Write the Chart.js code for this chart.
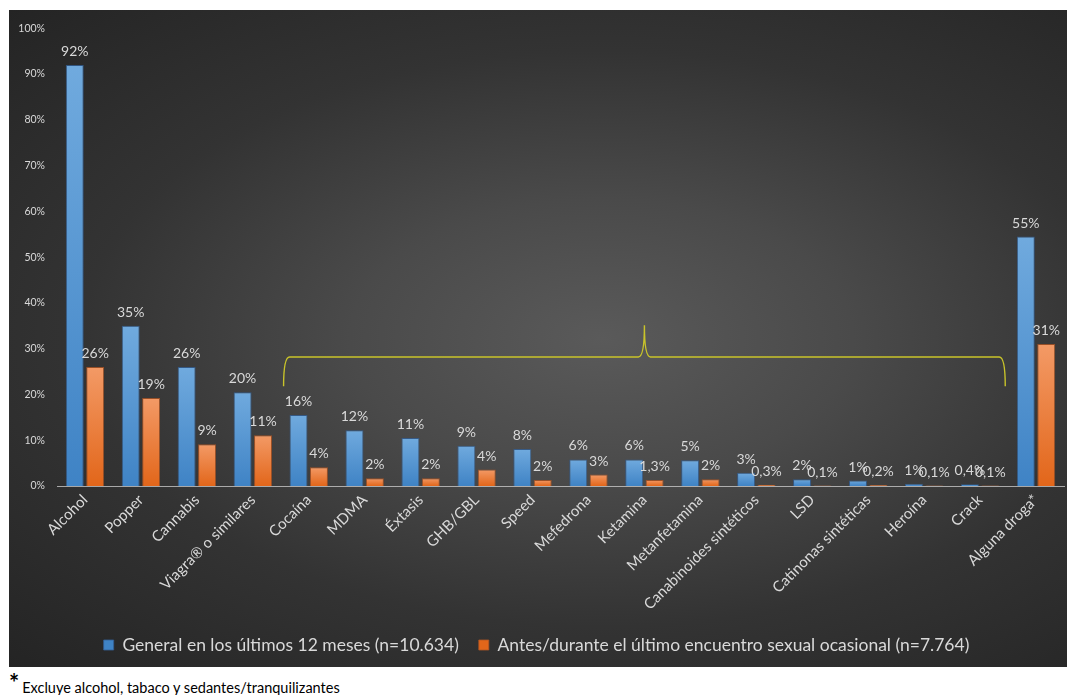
<!DOCTYPE html>
<html lang="es">
<head>
<meta charset="utf-8">
<script src="https://cdn.jsdelivr.net/npm/chart.js@4.4.1/dist/chart.umd.min.js"></script>
<style>
  body { margin: 0; background: #fff; width: 1067px; height: 695px; position: relative; overflow: hidden; }
  #panel {
    position: absolute; left: 9px; top: 10px; width: 1058px; height: 657px;
    background: radial-gradient(ellipse farthest-corner at 56% 50%, #5a5a5a 0%, #4a4a4a 30%, #333 62%, #242424 100%);
  }
  #note { position: absolute; left: 9px; top: 671px; font-family: Lato, sans-serif; color: #000; white-space: nowrap; }
  #note b { font-size: 24px; vertical-align: top; line-height: 24px; }
  #note span { font-size: 14.5px; margin-left: 3px; position: relative; top: 6px; }
</style>
</head>
<body>
<div id="panel"><canvas id="drugChart"></canvas></div>
<div id="note"><b>*</b><span>Excluye alcohol, tabaco y sedantes/tranquilizantes</span></div>

<script>
// categories
const drugs = ["Alcohol", "Popper", "Cannabis", "Viagra® o similares", "Cocaína", "MDMA", "Éxtasis",
    "GHB/GBL", "Speed", "Mefedrona", "Ketamina", "Metanfetamina", "Canabinoides sintéticos", "LSD",
    "Catinonas sintéticas", "Heroína", "Crack", "Alguna droga*"];

// series values (%)
const general12m = [92, 35, 26, 20.5, 15.5, 12.2, 10.5, 8.8, 8.1, 5.8, 5.8, 5.6, 2.9, 1.5, 1.2, 0.5, 0.4, 54.5];
const lastEncounter = [26, 19.2, 9.1, 11.1, 4.1, 1.7, 1.7, 3.6, 1.3, 2.5, 1.3, 1.5, 0.3, 0.1, 0.2, 0.1, 0.1, 31];

// printed labels above the bars
const general12mLabels = ["92%", "35%", "26%", "20%", "16%", "12%", "11%", "9%", "8%", "6%", "6%", "5%",
    "3%", "2%", "1%", "1%", "0,4%", "55%"];
const lastEncounterLabels = ["26%", "19%", "9%", "11%", "4%", "2%", "2%", "4%", "2%", "3%", "1,3%", "2%",
    "0,3%", "0,1%", "0,2%", "0,1%", "0,1%", "31%"];

const seriesNames = ["General en los últimos 12 meses (n=10.634)",
    "Antes/durante el último encuentro sexual ocasional (n=7.764)"];

// y ticks
const yTicks = [0, 10, 20, 30, 40, 50, 60, 70, 80, 90, 100];

// brace over Cocaína..Crack (category index / value units)
const braceFrom = 3.55, braceTo = 16.45, bracePeak = 10.0;
const braceLevel = 28.2, braceEnd = 21.8, braceTop = 35.1;

Chart.defaults.font.family = "Lato, 'Open Sans', sans-serif";
Chart.defaults.color = "#d9d9d9";

function barFill(topColor, bottomColor) {
    return function (c) {
        const chart = c.chart;
        if (!chart.chartArea || c.type !== 'data') return bottomColor;
        const y = chart.scales.y;
        const top = y.getPixelForValue(c.raw);
        const bottom = y.getPixelForValue(0);
        if (!(bottom > top)) return bottomColor;
        const g = chart.ctx.createLinearGradient(0, top, 0, bottom);
        g.addColorStop(0, topColor);
        g.addColorStop(1, bottomColor);
        return g;
    };
}

const valueLabels = {
    id: 'valueLabels',
    afterDatasetsDraw(chart) {
        const ctx = chart.ctx;
        const texts = [general12mLabels, lastEncounterLabels];
        ctx.save();
        ctx.font = "14px Lato, 'Open Sans', sans-serif";
        ctx.fillStyle = "#d9d9d9";
        ctx.textAlign = "center";
        ctx.textBaseline = "alphabetic";
        chart.data.datasets.forEach((ds, i) => {
            chart.getDatasetMeta(i).data.forEach((bar, j) => {
                ctx.fillText(texts[i][j], bar.x, bar.y - 9);
            });
        });
        ctx.restore();
    }
};

const brace = {
    id: 'brace',
    afterDatasetsDraw(chart) {
        const x = chart.scales.x, y = chart.scales.y, ctx = chart.ctx;
        const x0 = x.getPixelForValue(braceFrom), x1 = x.getPixelForValue(braceTo);
        const xp = x.getPixelForValue(bracePeak);
        const yl = y.getPixelForValue(braceLevel), ye = y.getPixelForValue(braceEnd);
        const yt = y.getPixelForValue(braceTop);
        ctx.save();
        ctx.strokeStyle = "#c9c42a";
        ctx.lineWidth = 1.4;
        ctx.beginPath();
        ctx.moveTo(x0, ye);
        ctx.quadraticCurveTo(x0, yl, x0 + 6, yl);
        ctx.lineTo(xp - 6, yl);
        ctx.quadraticCurveTo(xp, yl, xp, yt);
        ctx.quadraticCurveTo(xp, yl, xp + 6, yl);
        ctx.lineTo(x1 - 6, yl);
        ctx.quadraticCurveTo(x1, yl, x1, ye);
        ctx.stroke();
        ctx.restore();
    }
};

new Chart(document.getElementById('drugChart'), {
    type: 'bar',
    data: {
        labels: drugs,
        datasets: [
            {
                label: seriesNames[0],
                data: general12m,
                backgroundColor: barFill("#70aade", "#3f83c5"),
                borderColor: "rgba(50, 95, 150, 0.8)",
                borderWidth: 1,
                categoryPercentage: 0.73,
                barPercentage: 0.88
            },
            {
                label: seriesNames[1],
                data: lastEncounter,
                backgroundColor: barFill("#f39a66", "#e2661a"),
                borderColor: "rgba(175, 85, 35, 0.8)",
                borderWidth: 1,
                categoryPercentage: 0.73,
                barPercentage: 0.88
            }
        ]
    },
    options: {
        responsive: true,
        maintainAspectRatio: false,
        animation: false,
        layout: { padding: { top: 12, right: 3, bottom: 3.25, left: 0 } },
        plugins: {
            tooltip: { enabled: false },
            legend: {
                position: 'bottom',
                labels: {
                    color: "#d9d9d9",
                    font: { size: 17.5 },
                    boxWidth: 10,
                    boxHeight: 10,
                    padding: 20
                }
            }
        },
        scales: {
            y: {
                min: 0,
                max: 100,
                afterBuildTicks(scale) { scale.ticks = yTicks.map(v => ({ value: v })); },
                afterFit(scale) { scale.width = 48; },
                grid: { display: false, drawTicks: false },
                border: { display: false },
                ticks: {
                    padding: 12,
                    color: "#d9d9d9",
                    font: { size: 10.5 },
                    callback: v => v + "%"
                }
            },
            x: {
                afterFit(scale) { scale.height = 130.25; },
                grid: { display: false, drawTicks: false },
                border: { display: true, color: "rgba(220, 220, 220, 0.7)", width: 1, dash: [2, 2] },
                ticks: {
                    autoSkip: false,
                    minRotation: 45,
                    maxRotation: 45,
                    padding: 5,
                    color: "#d9d9d9",
                    font: { size: 15 }
                }
            }
        }
    },
    plugins: [valueLabels, brace]
});
</script>
</body>
</html>
